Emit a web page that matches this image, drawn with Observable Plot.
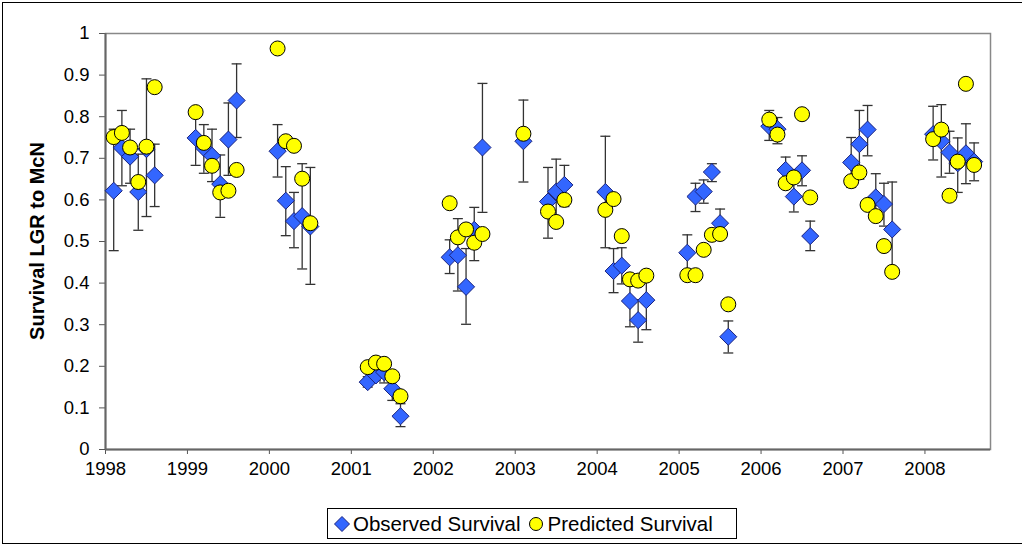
<!DOCTYPE html>
<html><head><meta charset="utf-8">
<script src="https://cdn.jsdelivr.net/npm/d3@7"></script>
<script src="https://cdn.jsdelivr.net/npm/@observablehq/plot@0.6"></script>
<style>
html,body{margin:0;padding:0;background:#fff;overflow:hidden;width:1022px;height:546px;font-family:"Liberation Sans",Arial,sans-serif;}
#frame{position:absolute;left:2px;top:2px;width:1040px;height:542px;border:1px solid #000;box-sizing:border-box;}
#chart{position:absolute;left:0;top:0;}
#ytitle{position:absolute;left:37px;top:241px;transform:translate(-50%,-50%) rotate(-90deg);font-weight:bold;font-size:20px;white-space:nowrap;color:#000;}
#legend{position:absolute;left:327px;top:508px;width:410px;height:31px;border:1px solid #000;box-sizing:border-box;background:#fff;display:flex;align-items:center;font-size:20.5px;color:#000;white-space:nowrap;}
#legend svg{margin-left:6px;margin-right:3px;}
</style></head><body>
<div id="frame"></div>
<div id="chart"></div>
<div id="ytitle"></div>
<div id="legend">
<svg width="16" height="16" viewBox="-8 -8 16 16"><path d="M0,-7.5L7.5,0L0,7.5L-7.5,0Z" fill="#3366FF" stroke="#1a237e" stroke-width="1"/></svg><span id="lg1"></span>
<svg width="16" height="16" viewBox="-8 -8 16 16" style="margin-left:8px"><circle r="6.5" fill="#FFFF00" stroke="#000" stroke-width="1"/></svg><span id="lg2"></span>
</div>
<script>
// x positions (year + sampling fraction)
const xs = [
  1998.1,1998.2,1998.3,1998.4,1998.5,1998.6,
  1999.1,1999.2,1999.3,1999.4,1999.5,1999.6,
  2000.1,2000.2,2000.3,2000.4,2000.5,
  2001.2,2001.3,2001.4,2001.5,2001.6,
  2002.2,2002.3,2002.4,2002.5,2002.6,
  2003.1,2003.4,2003.5,2003.6,
  2004.1,2004.2,2004.3,2004.4,2004.5,2004.6,
  2005.1,2005.2,2005.3,2005.4,2005.5,2005.6,
  2006.1,2006.2,2006.3,2006.4,2006.5,2006.6,
  2007.1,2007.2,2007.3,2007.4,2007.5,2007.6,
  2008.1,2008.2,2008.3,2008.4,2008.5,2008.6
];
const observed = [
  0.622,0.725,0.704,0.619,0.722,0.659,
  0.749,0.725,0.706,0.638,0.745,0.839,
  0.717,0.598,0.549,0.561,0.536,
  0.162,0.178,0.186,0.146,0.080,
  0.462,0.467,0.391,0.528,0.726,
  0.741,0.596,0.620,0.636,
  0.619,0.429,0.442,0.357,0.311,0.359,
  0.473,0.608,0.620,0.667,0.544,0.271,
  0.777,0.770,0.672,0.608,0.671,0.513,
  0.690,0.734,0.769,0.606,0.590,0.529,
  0.758,0.741,0.714,0.688,0.712,0.692
];
const obsHigh = [
  0.770,0.815,0.770,0.710,0.891,0.734,
  0.810,0.781,0.770,0.708,0.833,0.927,
  0.781,0.680,0.618,0.687,0.678,
  0.175,0.195,0.205,0.170,0.110,
  0.504,0.555,0.483,0.582,0.880,
  0.840,0.678,0.698,0.683,
  0.753,0.483,0.485,0.405,0.360,0.405,
  0.516,0.640,0.648,0.687,0.578,0.309,
  0.815,0.798,0.703,0.645,0.706,0.549,
  0.750,0.815,0.827,0.663,0.640,0.643,
  0.825,0.829,0.765,0.749,0.783,0.737
];
const obsLow = [
  0.478,0.634,0.640,0.527,0.560,0.584,
  0.683,0.664,0.644,0.558,0.659,0.750,
  0.655,0.514,0.485,0.434,0.397,
  0.150,0.165,0.160,0.118,0.055,
  0.423,0.381,0.301,0.454,0.570,
  0.643,0.508,0.550,0.584,
  0.485,0.377,0.398,0.295,0.258,0.288,
  0.431,0.572,0.592,0.644,0.510,0.232,
  0.743,0.735,0.640,0.571,0.634,0.478,
  0.630,0.650,0.706,0.550,0.537,0.427,
  0.696,0.655,0.664,0.618,0.639,0.646
];
const predicted = [
  0.751,0.761,0.726,0.643,0.728,0.871,
  0.811,0.737,0.682,0.618,0.622,0.672,
  0.964,0.741,0.730,0.651,0.544,
  0.198,0.209,0.206,0.176,0.128,
  0.592,0.510,0.529,0.497,0.518,
  0.759,0.572,0.547,0.600,
  0.576,0.602,0.513,0.409,0.406,0.418,
  0.419,0.419,0.480,0.516,0.518,0.349,
  0.793,0.757,0.640,0.654,0.806,0.606,
  0.645,0.666,0.588,0.561,0.489,0.427,
  0.746,0.769,0.610,0.692,0.879,0.684
];
const yearTicks = [1998,1999,2000,2001,2002,2003,2004,2005,2006,2007,2008];
const yTicks = [0,0.1,0.2,0.3,0.4,0.5,0.6,0.7,0.8,0.9,1];
const yTitle = "Survival LGR to McN";
const seriesNames = ["Observed Survival","Predicted Survival"];

document.getElementById("ytitle").textContent = yTitle;
document.getElementById("lg1").textContent = seriesNames[0];
document.getElementById("lg2").textContent = seriesNames[1];

const rows = xs.map((x,i)=>({x, obs:observed[i], hi:obsHigh[i], lo:obsLow[i], pred:predicted[i]}));

const cap = {draw(context){ context.moveTo(-5,0); context.lineTo(5,0); }};

const chart = Plot.plot({
  width:1022, height:500,
  marginLeft:105, marginRight:32, marginTop:33, marginBottom:51,
  x:{domain:[1998,2008.8]},
  y:{domain:[0,1]},
  style:{fontFamily:"'Liberation Sans', Arial, sans-serif", fontSize:"18.5px", color:"#000", background:"transparent"},
  marks:[
    Plot.frame({stroke:"#888", strokeWidth:1.5}),
    Plot.axisX({ticks:yearTicks, tickFormat:d=>String(d), tickSize:5, tickPadding:7, label:null, stroke:"#555", fill:"#000"}),
    Plot.axisY({ticks:yTicks, tickFormat:d=>String(+d.toFixed(1)), tickSize:6, tickPadding:10, label:null, stroke:"#555", fill:"#000"}),
    Plot.ruleY([0],{stroke:"#666", strokeWidth:2}),
    Plot.ruleX([1998],{stroke:"#666", strokeWidth:2}),
    Plot.ruleX(rows,{x:"x", y1:"lo", y2:"hi", stroke:"#333", strokeWidth:1.3}),
    Plot.dot(rows,{x:"x", y:"lo", symbol:cap, stroke:"#333", strokeWidth:1.3, fill:"none"}),
    Plot.dot(rows,{x:"x", y:"hi", symbol:cap, stroke:"#333", strokeWidth:1.3, fill:"none"}),
    Plot.dot(rows,{x:"x", y:"obs", symbol:"diamond2", r:7.7, fill:"#3366FF", stroke:"#1a237e", strokeWidth:1, fillOpacity:1}),
    Plot.dot(rows,{x:"x", y:"pred", symbol:"circle", r:7.5, fill:"#FFFF00", stroke:"#000", strokeWidth:1, fillOpacity:1})
  ]
});
document.getElementById("chart").appendChild(chart);
</script>
</body></html>
